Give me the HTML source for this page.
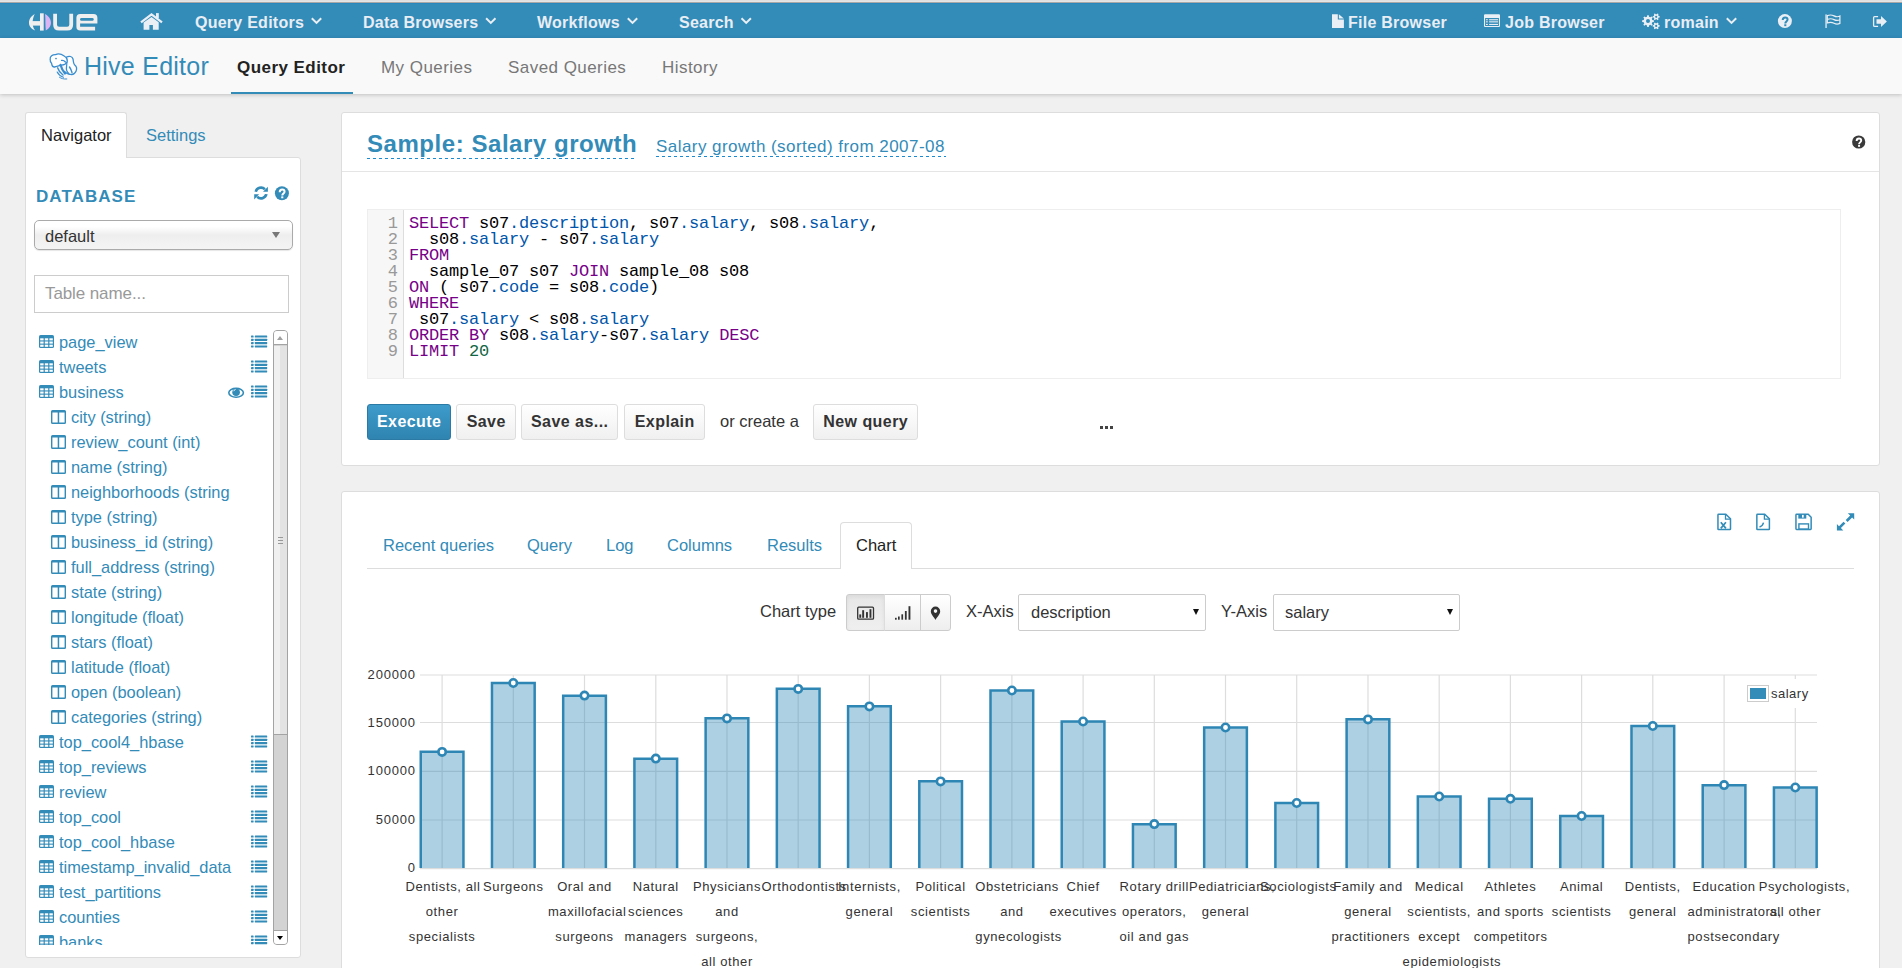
<!DOCTYPE html>
<html><head><meta charset="utf-8">
<style>
*{box-sizing:border-box;margin:0;padding:0}
html,body{width:1902px;height:968px;overflow:hidden}
body{background:#f0f0f0;font-family:"Liberation Sans",sans-serif;font-size:16px;color:#333;position:relative}
.abs{position:absolute}
#top0{left:0;top:0;width:1902px;height:1px;background:#e0e0e0}
#top1{left:0;top:1px;width:1902px;height:1px;background:#e5e5e5}
#top2{left:0;top:2px;width:1902px;height:1px;background:#aaa8a6}
#nav{left:0;top:3px;width:1902px;height:35px;background:#338bb8;border-top:1px solid #2a87bd}
.nt{position:absolute;top:14px;font-weight:bold;font-size:16px;letter-spacing:0.25px;color:#e9eef4;line-height:18px;white-space:nowrap}
.chev{position:absolute;width:11px;height:7px}
#sub{left:0;top:38px;width:1902px;height:56px;background:#f9f9f9;box-shadow:0 1px 4px rgba(0,0,0,.2)}
.st{position:absolute;top:59px;font-size:17px;letter-spacing:0.45px;color:#777;line-height:18px;white-space:nowrap}

#sbtab{left:25px;top:112px;width:102px;height:46px;background:#fff;border:1px solid #ddd;border-bottom:none;border-radius:3px 3px 0 0;z-index:2}
#sbcard{left:25px;top:157px;width:276px;height:801px;background:#fff;border:1px solid #ddd;border-radius:0 3px 3px 3px}
.tr{position:absolute;left:0;height:25px;width:240px;color:#338bb8;font-size:16.4px;line-height:25px;white-space:nowrap}
.tr span{position:absolute;top:1px}
.ti{position:absolute;left:14px;top:6px}
.ci{position:absolute;left:26px;top:6px}
.li{position:absolute;left:226px;top:6px}
#tlist{left:25px;top:329px;width:248px;height:616px;overflow:hidden}

.card{position:absolute;background:#fff;border:1px solid #ddd;border-radius:3px}
#code{left:367px;top:209px;width:1474px;height:170px;border:1px solid #eee;background:#fff}
#gut{left:368px;top:210px;width:36px;height:168px;background:#f7f7f7;border-right:1px solid #ddd}
.cl{position:absolute;left:409px;font-family:"Liberation Mono",monospace;font-size:17px;line-height:16px;letter-spacing:-0.2px;color:#000;white-space:pre}
.ln{position:absolute;left:379px;width:19px;text-align:right;font-family:"Liberation Mono",monospace;font-size:17px;line-height:16px;color:#999}
.k{color:#708}.p{color:#05a}.n{color:#164}
.btn{position:absolute;top:404px;height:36px;border:1px solid #ddd;border-radius:3px;background:linear-gradient(#fff,#f0f0f0);font-weight:bold;font-size:16px;letter-spacing:0.45px;text-indent:0.45px;color:#333;line-height:34px;text-align:center;white-space:nowrap}

.yl{position:absolute;left:360px;width:55.8px;text-align:right;font-size:13px;letter-spacing:0.8px;line-height:16px;color:#333}
.xl{position:absolute;top:874px;width:73.2px;text-align:center;font-size:13px;letter-spacing:0.6px;line-height:25px;color:#333;white-space:nowrap}
.tab{position:absolute;top:536px;font-size:16.5px;color:#338bb8;line-height:18px;white-space:nowrap}
.bg1{position:absolute;top:594px;height:37px;border:1px solid #ccc;background:linear-gradient(#fff,#eee)}
.sel{position:absolute;top:594px;height:37px;border:1px solid #ccc;background:#fff;border-radius:2px}
</style></head>
<body>
<div id="top0" class="abs"></div><div id="top1" class="abs"></div><div id="top2" class="abs"></div>
<div id="nav" class="abs"></div>
<!-- navbar text -->
<div class="nt" style="left:195px">Query Editors</div>
<div class="nt" style="left:363px">Data Browsers</div>
<div class="nt" style="left:537px">Workflows</div>
<div class="nt" style="left:679px">Search</div>
<div class="nt" style="left:1348px">File Browser</div>
<div class="nt" style="left:1505px">Job Browser</div>
<div class="nt" style="left:1664px">romain</div>

<div id="sub" class="abs"></div>
<div class="abs" style="left:84px;top:51px;font-size:25px;letter-spacing:0.25px;color:#338bb8;line-height:30px;white-space:nowrap">Hive Editor</div>
<div class="st" style="left:237px;color:#222;font-weight:bold">Query Editor</div>
<div class="abs" style="left:231px;top:92px;width:122px;height:2px;background:#338bb8"></div>
<div class="st" style="left:381px">My Queries</div>
<div class="st" style="left:508px">Saved Queries</div>
<div class="st" style="left:662px">History</div>


<svg width="0" height="0" style="position:absolute">
<defs>
<symbol id="itab" viewBox="0 0 15 13"><rect x="0" y="0" width="15" height="13" rx="1.6" fill="#338bb8"/><g fill="#fff"><rect x="1.2" y="3.3" width="3.4" height="2.1"/><rect x="5.8" y="3.3" width="3.4" height="2.1"/><rect x="10.4" y="3.3" width="3.4" height="2.1"/><rect x="1.2" y="6.5" width="3.4" height="2.1"/><rect x="5.8" y="6.5" width="3.4" height="2.1"/><rect x="10.4" y="6.5" width="3.4" height="2.1"/><rect x="1.2" y="9.7" width="3.4" height="2.1"/><rect x="5.8" y="9.7" width="3.4" height="2.1"/><rect x="10.4" y="9.7" width="3.4" height="2.1"/></g></symbol>
<symbol id="icol" viewBox="0 0 15 14"><path fill="#338bb8" fill-rule="evenodd" d="M1.5 0h12A1.5 1.5 0 0 1 15 1.5v11a1.5 1.5 0 0 1-1.5 1.5h-12A1.5 1.5 0 0 1 0 12.5v-11A1.5 1.5 0 0 1 1.5 0zM1.4 2.6v10h5.3v-10zM8.2 2.6v10h5.4v-10z"/></symbol>
<symbol id="ilist" viewBox="0 0 17 13"><g fill="#338bb8"><rect x="0" y="0.5" width="2.6" height="2.1" rx=".4"/><rect x="3.8" y="0.5" width="12.4" height="2.1" rx=".4"/><rect x="0" y="3.8" width="2.6" height="2.1" rx=".4"/><rect x="3.8" y="3.8" width="12.4" height="2.1" rx=".4"/><rect x="0" y="7.1" width="2.6" height="2.1" rx=".4"/><rect x="3.8" y="7.1" width="12.4" height="2.1" rx=".4"/><rect x="0" y="10.4" width="2.6" height="2.1" rx=".4"/><rect x="3.8" y="10.4" width="12.4" height="2.1" rx=".4"/></g></symbol>
</defs></svg>
<div id="sbcard" class="abs"></div>
<div id="sbtab" class="abs"></div>
<div class="abs" style="left:41px;top:126px;font-size:16.5px;color:#222;line-height:18px;z-index:3">Navigator</div>
<div class="abs" style="left:146px;top:126px;font-size:16.5px;color:#338bb8;line-height:18px">Settings</div>
<div class="abs" style="left:36px;top:187px;font-size:17px;font-weight:bold;letter-spacing:1.05px;color:#338bb8;line-height:20px">DATABASE</div>
<div class="abs" style="left:34px;top:220px;width:259px;height:30px;border:1px solid #aaa;border-radius:5px;background:linear-gradient(#fff 0%,#fff 20%,#eee 50%,#f4f4f4 100%);box-shadow:0 1px 1px rgba(0,0,0,.1)"></div>
<div class="abs" style="left:45px;top:227px;font-size:16.5px;color:#333;line-height:18px">default</div>
<div class="abs" style="left:272px;top:232px;width:0;height:0;border-left:4px solid transparent;border-right:4px solid transparent;border-top:6px solid #777"></div>
<div class="abs" style="left:34px;top:275px;width:255px;height:38px;border:1px solid #ccc;background:#fff"></div>
<div class="abs" style="left:45px;top:285px;font-size:17px;letter-spacing:-0.1px;color:#999;line-height:18px">Table name...</div>
<div id="tlist" class="abs">
<div class="tr" style="top:0px"><svg class="ti" width="15" height="13"><use href="#itab"/></svg><span style="left:34px">page_view</span><svg class="li" width="17" height="13"><use href="#ilist"/></svg></div>
<div class="tr" style="top:25px"><svg class="ti" width="15" height="13"><use href="#itab"/></svg><span style="left:34px">tweets</span><svg class="li" width="17" height="13"><use href="#ilist"/></svg></div>
<div class="tr" style="top:50px"><svg class="ti" width="15" height="13"><use href="#itab"/></svg><span style="left:34px">business</span><svg class="li" width="17" height="13"><use href="#ilist"/></svg></div>
<div class="tr" style="top:75px"><svg class="ci" width="15" height="14"><use href="#icol"/></svg><span style="left:46px">city (string)</span></div>
<div class="tr" style="top:100px"><svg class="ci" width="15" height="14"><use href="#icol"/></svg><span style="left:46px">review_count (int)</span></div>
<div class="tr" style="top:125px"><svg class="ci" width="15" height="14"><use href="#icol"/></svg><span style="left:46px">name (string)</span></div>
<div class="tr" style="top:150px"><svg class="ci" width="15" height="14"><use href="#icol"/></svg><span style="left:46px">neighborhoods (string</span></div>
<div class="tr" style="top:175px"><svg class="ci" width="15" height="14"><use href="#icol"/></svg><span style="left:46px">type (string)</span></div>
<div class="tr" style="top:200px"><svg class="ci" width="15" height="14"><use href="#icol"/></svg><span style="left:46px">business_id (string)</span></div>
<div class="tr" style="top:225px"><svg class="ci" width="15" height="14"><use href="#icol"/></svg><span style="left:46px">full_address (string)</span></div>
<div class="tr" style="top:250px"><svg class="ci" width="15" height="14"><use href="#icol"/></svg><span style="left:46px">state (string)</span></div>
<div class="tr" style="top:275px"><svg class="ci" width="15" height="14"><use href="#icol"/></svg><span style="left:46px">longitude (float)</span></div>
<div class="tr" style="top:300px"><svg class="ci" width="15" height="14"><use href="#icol"/></svg><span style="left:46px">stars (float)</span></div>
<div class="tr" style="top:325px"><svg class="ci" width="15" height="14"><use href="#icol"/></svg><span style="left:46px">latitude (float)</span></div>
<div class="tr" style="top:350px"><svg class="ci" width="15" height="14"><use href="#icol"/></svg><span style="left:46px">open (boolean)</span></div>
<div class="tr" style="top:375px"><svg class="ci" width="15" height="14"><use href="#icol"/></svg><span style="left:46px">categories (string)</span></div>
<div class="tr" style="top:400px"><svg class="ti" width="15" height="13"><use href="#itab"/></svg><span style="left:34px">top_cool4_hbase</span><svg class="li" width="17" height="13"><use href="#ilist"/></svg></div>
<div class="tr" style="top:425px"><svg class="ti" width="15" height="13"><use href="#itab"/></svg><span style="left:34px">top_reviews</span><svg class="li" width="17" height="13"><use href="#ilist"/></svg></div>
<div class="tr" style="top:450px"><svg class="ti" width="15" height="13"><use href="#itab"/></svg><span style="left:34px">review</span><svg class="li" width="17" height="13"><use href="#ilist"/></svg></div>
<div class="tr" style="top:475px"><svg class="ti" width="15" height="13"><use href="#itab"/></svg><span style="left:34px">top_cool</span><svg class="li" width="17" height="13"><use href="#ilist"/></svg></div>
<div class="tr" style="top:500px"><svg class="ti" width="15" height="13"><use href="#itab"/></svg><span style="left:34px">top_cool_hbase</span><svg class="li" width="17" height="13"><use href="#ilist"/></svg></div>
<div class="tr" style="top:525px"><svg class="ti" width="15" height="13"><use href="#itab"/></svg><span style="left:34px">timestamp_invalid_data</span><svg class="li" width="17" height="13"><use href="#ilist"/></svg></div>
<div class="tr" style="top:550px"><svg class="ti" width="15" height="13"><use href="#itab"/></svg><span style="left:34px">test_partitions</span><svg class="li" width="17" height="13"><use href="#ilist"/></svg></div>
<div class="tr" style="top:575px"><svg class="ti" width="15" height="13"><use href="#itab"/></svg><span style="left:34px">counties</span><svg class="li" width="17" height="13"><use href="#ilist"/></svg></div>
<div class="tr" style="top:600px"><svg class="ti" width="15" height="13"><use href="#itab"/></svg><span style="left:34px">banks</span><svg class="li" width="17" height="13"><use href="#ilist"/></svg></div>
</div>

<div class="card" style="left:341px;top:112px;width:1539px;height:354px"></div>
<div class="abs" style="left:342px;top:171px;width:1537px;height:1px;background:#e5e5e5"></div>
<div class="abs" style="left:367px;top:130px;font-size:24px;font-weight:bold;letter-spacing:0.55px;color:#338bb8;line-height:28px;white-space:nowrap">Sample: Salary growth</div>
<div class="abs" style="left:367px;top:158px;width:270px;height:1px;background:repeating-linear-gradient(90deg,#1a8bd0 0 3px,transparent 3px 6px)"></div>
<div class="abs" style="left:656px;top:137px;font-size:17px;letter-spacing:0.45px;color:#338bb8;line-height:20px;white-space:nowrap">Salary growth (sorted) from 2007-08</div>
<div class="abs" style="left:656px;top:156px;width:290px;height:1px;background:repeating-linear-gradient(90deg,#1a8bd0 0 3px,transparent 3px 6px)"></div>
<div id="code" class="abs"></div><div id="gut" class="abs"></div>
<div class="ln" style="top:216px">1</div><div class="cl" style="top:216px"><span class="k">SELECT</span> s07<span class="p">.description</span>, s07<span class="p">.salary</span>, s08<span class="p">.salary</span>,</div>
<div class="ln" style="top:232px">2</div><div class="cl" style="top:232px">  s08<span class="p">.salary</span> - s07<span class="p">.salary</span></div>
<div class="ln" style="top:248px">3</div><div class="cl" style="top:248px"><span class="k">FROM</span></div>
<div class="ln" style="top:264px">4</div><div class="cl" style="top:264px">  sample_07 s07 <span class="k">JOIN</span> sample_08 s08</div>
<div class="ln" style="top:280px">5</div><div class="cl" style="top:280px"><span class="k">ON</span> ( s07<span class="p">.code</span> = s08<span class="p">.code</span>)</div>
<div class="ln" style="top:296px">6</div><div class="cl" style="top:296px"><span class="k">WHERE</span></div>
<div class="ln" style="top:312px">7</div><div class="cl" style="top:312px"> s07<span class="p">.salary</span> &lt; s08<span class="p">.salary</span></div>
<div class="ln" style="top:328px">8</div><div class="cl" style="top:328px"><span class="k">ORDER</span> <span class="k">BY</span> s08<span class="p">.salary</span>-s07<span class="p">.salary</span> <span class="k">DESC</span></div>
<div class="ln" style="top:344px">9</div><div class="cl" style="top:344px"><span class="k">LIMIT</span> <span class="n">20</span></div>
<div class="btn" style="left:367px;width:84px;background:linear-gradient(#3d9bcb,#2f84b0);border-color:#2b7aa5;color:#fff">Execute</div>
<div class="btn" style="left:456px;width:60px">Save</div>
<div class="btn" style="left:521px;width:97px">Save as...</div>
<div class="btn" style="left:624px;width:81px">Explain</div>
<div class="abs" style="left:720px;top:412px;font-size:16.5px;color:#333;line-height:18px">or create a</div>
<div class="btn" style="left:813px;width:105px">New query</div>
<div class="abs" style="left:1100px;top:426px;width:3px;height:3px;background:#444"></div>
<div class="abs" style="left:1105px;top:426px;width:3px;height:3px;background:#444"></div>
<div class="abs" style="left:1110px;top:426px;width:3px;height:3px;background:#444"></div>

<div class="card" style="left:341px;top:491px;width:1539px;height:520px"></div>
<div class="abs" style="left:367px;top:568px;width:1487px;height:1px;background:#ddd"></div>
<div class="abs" style="left:840px;top:522px;width:72px;height:47px;background:#fff;border:1px solid #ddd;border-bottom:none;border-radius:4px 4px 0 0"></div>
<div class="tab" style="left:383px">Recent queries</div>
<div class="tab" style="left:527px">Query</div>
<div class="tab" style="left:606px">Log</div>
<div class="tab" style="left:667px">Columns</div>
<div class="tab" style="left:767px">Results</div>
<div class="tab" style="left:856px;color:#222">Chart</div>
<div class="abs" style="left:760px;top:602px;font-size:16.5px;color:#333;line-height:18px">Chart type</div>
<div class="bg1" style="left:846px;width:39px;border-radius:3px 0 0 3px;background:linear-gradient(#e7e7e7,#efefef);box-shadow:inset 0 2px 4px rgba(0,0,0,.06)"></div>
<div class="bg1" style="left:884px;width:37px;border-left:1px solid #ddd"></div>
<div class="bg1" style="left:920px;width:31px;border-radius:0 3px 3px 0"></div>
<div class="abs" style="left:966px;top:602px;font-size:16.5px;color:#333;line-height:18px">X-Axis</div>
<div class="sel" style="left:1018px;width:188px"></div>
<div class="abs" style="left:1031px;top:603px;font-size:16.5px;color:#333;line-height:18px">description</div>
<div class="abs" style="left:1193px;top:609px;width:0;height:0;border-left:3px solid transparent;border-right:3px solid transparent;border-top:6px solid #111"></div>
<div class="abs" style="left:1221px;top:602px;font-size:16.5px;color:#333;line-height:18px">Y-Axis</div>
<div class="sel" style="left:1273px;width:187px"></div>
<div class="abs" style="left:1285px;top:603px;font-size:16.5px;color:#333;line-height:18px">salary</div>
<div class="abs" style="left:1447px;top:609px;width:0;height:0;border-left:3px solid transparent;border-right:3px solid transparent;border-top:6px solid #111"></div>
<svg class="abs" style="left:0;top:0" width="1902" height="968">
<line x1="420" x2="1817" y1="675" y2="675" stroke="#ddd" stroke-width="1.2"/>
<line x1="420" x2="1817" y1="722.5" y2="722.5" stroke="#ddd" stroke-width="1.2"/>
<line x1="420" x2="1817" y1="771.3" y2="771.3" stroke="#ddd" stroke-width="1.2"/>
<line x1="420" x2="1817" y1="820" y2="820" stroke="#ddd" stroke-width="1.2"/>
<line x1="442.1" x2="442.1" y1="675" y2="868" stroke="#ddd" stroke-width="1.2"/>
<line x1="513.3" x2="513.3" y1="675" y2="868" stroke="#ddd" stroke-width="1.2"/>
<line x1="584.5" x2="584.5" y1="675" y2="868" stroke="#ddd" stroke-width="1.2"/>
<line x1="655.8" x2="655.8" y1="675" y2="868" stroke="#ddd" stroke-width="1.2"/>
<line x1="727.0" x2="727.0" y1="675" y2="868" stroke="#ddd" stroke-width="1.2"/>
<line x1="798.2" x2="798.2" y1="675" y2="868" stroke="#ddd" stroke-width="1.2"/>
<line x1="869.4" x2="869.4" y1="675" y2="868" stroke="#ddd" stroke-width="1.2"/>
<line x1="940.6" x2="940.6" y1="675" y2="868" stroke="#ddd" stroke-width="1.2"/>
<line x1="1011.9" x2="1011.9" y1="675" y2="868" stroke="#ddd" stroke-width="1.2"/>
<line x1="1083.1" x2="1083.1" y1="675" y2="868" stroke="#ddd" stroke-width="1.2"/>
<line x1="1154.3" x2="1154.3" y1="675" y2="868" stroke="#ddd" stroke-width="1.2"/>
<line x1="1225.5" x2="1225.5" y1="675" y2="868" stroke="#ddd" stroke-width="1.2"/>
<line x1="1296.7" x2="1296.7" y1="675" y2="868" stroke="#ddd" stroke-width="1.2"/>
<line x1="1368.0" x2="1368.0" y1="675" y2="868" stroke="#ddd" stroke-width="1.2"/>
<line x1="1439.2" x2="1439.2" y1="675" y2="868" stroke="#ddd" stroke-width="1.2"/>
<line x1="1510.4" x2="1510.4" y1="675" y2="868" stroke="#ddd" stroke-width="1.2"/>
<line x1="1581.6" x2="1581.6" y1="675" y2="868" stroke="#ddd" stroke-width="1.2"/>
<line x1="1652.8" x2="1652.8" y1="675" y2="868" stroke="#ddd" stroke-width="1.2"/>
<line x1="1724.1" x2="1724.1" y1="675" y2="868" stroke="#ddd" stroke-width="1.2"/>
<line x1="1795.3" x2="1795.3" y1="675" y2="868" stroke="#ddd" stroke-width="1.2"/>
<path d="M420.75 868V751.85H463.45V868" fill="rgba(51,139,184,0.4)" stroke="#2e86b5" stroke-width="2.5"/>
<path d="M491.97 868V683.05H534.67V868" fill="rgba(51,139,184,0.4)" stroke="#2e86b5" stroke-width="2.5"/>
<path d="M563.19 868V695.65H605.89V868" fill="rgba(51,139,184,0.4)" stroke="#2e86b5" stroke-width="2.5"/>
<path d="M634.41 868V758.65H677.11V868" fill="rgba(51,139,184,0.4)" stroke="#2e86b5" stroke-width="2.5"/>
<path d="M705.63 868V718.35H748.33V868" fill="rgba(51,139,184,0.4)" stroke="#2e86b5" stroke-width="2.5"/>
<path d="M776.85 868V688.85H819.55V868" fill="rgba(51,139,184,0.4)" stroke="#2e86b5" stroke-width="2.5"/>
<path d="M848.07 868V706.35H890.77V868" fill="rgba(51,139,184,0.4)" stroke="#2e86b5" stroke-width="2.5"/>
<path d="M919.29 868V781.35H961.99V868" fill="rgba(51,139,184,0.4)" stroke="#2e86b5" stroke-width="2.5"/>
<path d="M990.51 868V690.45H1033.21V868" fill="rgba(51,139,184,0.4)" stroke="#2e86b5" stroke-width="2.5"/>
<path d="M1061.73 868V721.45H1104.43V868" fill="rgba(51,139,184,0.4)" stroke="#2e86b5" stroke-width="2.5"/>
<path d="M1132.95 868V824.15H1175.65V868" fill="rgba(51,139,184,0.4)" stroke="#2e86b5" stroke-width="2.5"/>
<path d="M1204.17 868V727.45H1246.87V868" fill="rgba(51,139,184,0.4)" stroke="#2e86b5" stroke-width="2.5"/>
<path d="M1275.39 868V803.05H1318.09V868" fill="rgba(51,139,184,0.4)" stroke="#2e86b5" stroke-width="2.5"/>
<path d="M1346.61 868V719.35H1389.31V868" fill="rgba(51,139,184,0.4)" stroke="#2e86b5" stroke-width="2.5"/>
<path d="M1417.83 868V796.45H1460.53V868" fill="rgba(51,139,184,0.4)" stroke="#2e86b5" stroke-width="2.5"/>
<path d="M1489.05 868V798.75H1531.75V868" fill="rgba(51,139,184,0.4)" stroke="#2e86b5" stroke-width="2.5"/>
<path d="M1560.27 868V815.95H1602.97V868" fill="rgba(51,139,184,0.4)" stroke="#2e86b5" stroke-width="2.5"/>
<path d="M1631.49 868V726.05H1674.19V868" fill="rgba(51,139,184,0.4)" stroke="#2e86b5" stroke-width="2.5"/>
<path d="M1702.71 868V785.15H1745.41V868" fill="rgba(51,139,184,0.4)" stroke="#2e86b5" stroke-width="2.5"/>
<path d="M1773.93 868V787.55H1816.63V868" fill="rgba(51,139,184,0.4)" stroke="#2e86b5" stroke-width="2.5"/>
<line x1="420" x2="1817" y1="868.6" y2="868.6" stroke="#ddd" stroke-width="1.3"/>
<circle cx="442.1" cy="751.9" r="3.7" fill="#fff" stroke="#2e86b5" stroke-width="2.6"/>
<circle cx="513.3" cy="683.0" r="3.7" fill="#fff" stroke="#2e86b5" stroke-width="2.6"/>
<circle cx="584.5" cy="695.6" r="3.7" fill="#fff" stroke="#2e86b5" stroke-width="2.6"/>
<circle cx="655.8" cy="758.6" r="3.7" fill="#fff" stroke="#2e86b5" stroke-width="2.6"/>
<circle cx="727.0" cy="718.4" r="3.7" fill="#fff" stroke="#2e86b5" stroke-width="2.6"/>
<circle cx="798.2" cy="688.9" r="3.7" fill="#fff" stroke="#2e86b5" stroke-width="2.6"/>
<circle cx="869.4" cy="706.4" r="3.7" fill="#fff" stroke="#2e86b5" stroke-width="2.6"/>
<circle cx="940.6" cy="781.4" r="3.7" fill="#fff" stroke="#2e86b5" stroke-width="2.6"/>
<circle cx="1011.9" cy="690.5" r="3.7" fill="#fff" stroke="#2e86b5" stroke-width="2.6"/>
<circle cx="1083.1" cy="721.5" r="3.7" fill="#fff" stroke="#2e86b5" stroke-width="2.6"/>
<circle cx="1154.3" cy="824.1" r="3.7" fill="#fff" stroke="#2e86b5" stroke-width="2.6"/>
<circle cx="1225.5" cy="727.5" r="3.7" fill="#fff" stroke="#2e86b5" stroke-width="2.6"/>
<circle cx="1296.7" cy="803.0" r="3.7" fill="#fff" stroke="#2e86b5" stroke-width="2.6"/>
<circle cx="1368.0" cy="719.4" r="3.7" fill="#fff" stroke="#2e86b5" stroke-width="2.6"/>
<circle cx="1439.2" cy="796.5" r="3.7" fill="#fff" stroke="#2e86b5" stroke-width="2.6"/>
<circle cx="1510.4" cy="798.8" r="3.7" fill="#fff" stroke="#2e86b5" stroke-width="2.6"/>
<circle cx="1581.6" cy="816.0" r="3.7" fill="#fff" stroke="#2e86b5" stroke-width="2.6"/>
<circle cx="1652.8" cy="726.0" r="3.7" fill="#fff" stroke="#2e86b5" stroke-width="2.6"/>
<circle cx="1724.1" cy="785.1" r="3.7" fill="#fff" stroke="#2e86b5" stroke-width="2.6"/>
<circle cx="1795.3" cy="787.5" r="3.7" fill="#fff" stroke="#2e86b5" stroke-width="2.6"/>
<rect x="1745" y="679" width="66" height="29" fill="#fff"/>
<rect x="1747.5" y="685.5" width="21" height="16" fill="#fff" stroke="#ccc" stroke-width="1"/>
<rect x="1750" y="688" width="16" height="11" fill="#338bb8"/>
</svg>
<div class="yl" style="top:667px">200000</div>
<div class="yl" style="top:714.5px">150000</div>
<div class="yl" style="top:763.3px">100000</div>
<div class="yl" style="top:812px">50000</div>
<div class="yl" style="top:860.0px">0</div>
<div class="xl" style="left:405.5px"><div>Dentists, all</div><div>other</div><div>specialists</div></div>
<div class="xl" style="left:476.7px"><div>Surgeons</div></div>
<div class="xl" style="left:547.9px"><div>Oral and</div><div>maxillofacial</div><div>surgeons</div></div>
<div class="xl" style="left:619.2px"><div>Natural</div><div>sciences</div><div>managers</div></div>
<div class="xl" style="left:690.4px"><div>Physicians</div><div>and</div><div>surgeons,</div><div>all other</div></div>
<div class="xl" style="left:761.6px"><div>Orthodontists</div></div>
<div class="xl" style="left:832.8px"><div>Internists,</div><div>general</div></div>
<div class="xl" style="left:904.0px"><div>Political</div><div>scientists</div></div>
<div class="xl" style="left:975.3px"><div>Obstetricians</div><div>and</div><div>gynecologists</div></div>
<div class="xl" style="left:1046.5px"><div>Chief</div><div>executives</div></div>
<div class="xl" style="left:1117.7px"><div>Rotary drill</div><div>operators,</div><div>oil and gas</div></div>
<div class="xl" style="left:1188.9px"><div>Pediatricians,</div><div>general</div></div>
<div class="xl" style="left:1260.1px"><div>Sociologists</div></div>
<div class="xl" style="left:1331.4px"><div>Family and</div><div>general</div><div>practitioners</div></div>
<div class="xl" style="left:1402.6px"><div>Medical</div><div>scientists,</div><div>except</div><div>epidemiologists</div></div>
<div class="xl" style="left:1473.8px"><div>Athletes</div><div>and sports</div><div>competitors</div></div>
<div class="xl" style="left:1545.0px"><div>Animal</div><div>scientists</div></div>
<div class="xl" style="left:1616.2px"><div>Dentists,</div><div>general</div></div>
<div class="xl" style="left:1687.5px"><div>Education</div><div>administrators,</div><div>postsecondary</div></div>
<div class="xl" style="left:1758.7px"><div>Psychologists,</div><div>all other</div></div>
<div class="abs" style="left:1771px;top:686px;font-size:13px;letter-spacing:0.5px;color:#333;line-height:16px">salary</div>
<div class="abs" style="left:273px;top:330px;width:15px;height:615px;border:1px solid #a3a3a3;border-radius:4px;background:#d3d3d3;overflow:hidden">
<div class="abs" style="left:0;top:0;width:13px;height:14px;background:#fff;border-bottom:1px solid #a3a3a3"></div>
<div class="abs" style="left:3px;top:5px;width:0;height:0;border-left:3.5px solid transparent;border-right:3.5px solid transparent;border-bottom:4px solid #a0a0a0"></div>
<div class="abs" style="left:0;top:15px;width:6px;height:388px;background:#f0f0f0"></div>
<div class="abs" style="left:6px;top:15px;width:7px;height:388px;background:#e3e3e3"></div>
<div class="abs" style="left:0;top:403px;width:13px;height:1px;background:#a3a3a3"></div>
<div class="abs" style="left:4px;top:206px;width:5px;height:1px;background:#999"></div>
<div class="abs" style="left:4px;top:209px;width:5px;height:1px;background:#999"></div>
<div class="abs" style="left:4px;top:212px;width:5px;height:1px;background:#999"></div>
<div class="abs" style="left:0;top:599px;width:13px;height:14px;background:#fff;border-top:1px solid #a3a3a3"></div>
<div class="abs" style="left:3px;top:605px;width:0;height:0;border-left:3.5px solid transparent;border-right:3.5px solid transparent;border-top:4px solid #000"></div>
</div>
<!--ICONS--><svg class="abs" style="left:0;top:0;z-index:5" width="1902" height="968"><g transform="translate(26 10)" fill="#efefef"><path d="M8.7 4.0C4.6 6.3 3.0 9.6 3.0 12.8C3.0 16.0 4.6 18.6 9.2 20.5C7.3 18.1 6.6 15.6 6.6 12.8C6.6 9.9 7.3 7.0 8.7 4.0Z"/><rect x="14" y="3.3" width="3.7" height="17.3"/><rect x="5" y="11.1" width="9.5" height="4.5"/><path d="M19.1 4.0C23.8 7.0 25.0 10.0 25.0 12.8C25.0 15.6 23.8 18.1 19.8 20.5C19.6 17.9 19.4 15.5 19.4 12.8C19.4 10.0 19.4 7.0 19.1 4.0Z" fill="#dcb4f4"/><path d="M29.1 3.7V14.7Q29.1 18.7 33.1 18.7H41.2Q45.2 18.7 45.2 14.7V3.7" fill="none" stroke="#efefef" stroke-width="3.8"/><path d="M54.2 3.9H67.6Q71.4 3.9 71.4 7.7V13.4H54.1V16.8H69.1V20.6H54.2Q50.4 20.6 50.4 16.8V7.7Q50.4 3.9 54.2 3.9Z"/><rect x="54.1" y="7.9" width="13.6" height="2.9" rx="1.4" fill="#338bb8"/></g>
<g fill="#e9eff4"><polyline points="141,22.3 151.5,14.4 162,22.3" fill="none" stroke="#e9eff4" stroke-width="2.3"/><rect x="156" y="13.1" width="2.8" height="5"/><path d="M143.6 22.6L151.5 16.9L158.7 22.2V29.8H152.9V25H149.4V29.8H143.6Z"/></g>
<polyline points="311.8,18.2 316.5,22.9 321.2,18.2" fill="none" stroke="#e9eff4" stroke-width="2"/>
<polyline points="486.1,18.2 490.8,22.9 495.5,18.2" fill="none" stroke="#e9eff4" stroke-width="2"/>
<polyline points="627.8,18.2 632.5,22.9 637.2,18.2" fill="none" stroke="#e9eff4" stroke-width="2"/>
<polyline points="741.5,18.2 746.2,22.9 750.9000000000001,18.2" fill="none" stroke="#e9eff4" stroke-width="2"/>
<polyline points="1726.8,18.2 1731.5,22.9 1736.2,18.2" fill="none" stroke="#e9eff4" stroke-width="2"/>
<g fill="#e9eff4"><path d="M1332 14.2H1337.8V19.6H1343.9V28H1332Z"/><path d="M1338.9 14.2L1343.9 18.6H1338.9Z"/></g>
<g fill="#e9eff4"><path fill-rule="evenodd" d="M1485 14.2H1499Q1500 14.2 1500 15.2V25.9Q1500 26.9 1499 26.9H1485Q1484 26.9 1484 25.9V15.2Q1484 14.2 1485 14.2ZM1485.1 18.1V25.9H1498.9V18.1Z"/><rect x="1486" y="19.2" width="1.8" height="1.1"/><rect x="1489.1" y="19.2" width="8.9" height="1.1"/><rect x="1486" y="21.3" width="1.8" height="1.1"/><rect x="1489.1" y="21.3" width="8.9" height="1.1"/><rect x="1486" y="23.9" width="1.8" height="1.1"/><rect x="1489.1" y="23.9" width="8.9" height="1.1"/></g>
<path fill="#e9eff4" fill-rule="evenodd" d="M1653.85 20.31 L1653.85 21.89 L1652.28 22.13 L1651.75 23.40 L1652.69 24.68 L1651.58 25.79 L1650.30 24.85 L1649.03 25.38 L1648.79 26.95 L1647.21 26.95 L1646.97 25.38 L1645.70 24.85 L1644.42 25.79 L1643.31 24.68 L1644.25 23.40 L1643.72 22.13 L1642.15 21.89 L1642.15 20.31 L1643.72 20.07 L1644.25 18.80 L1643.31 17.52 L1644.42 16.41 L1645.70 17.35 L1646.97 16.82 L1647.21 15.25 L1648.79 15.25 L1649.03 16.82 L1650.30 17.35 L1651.58 16.41 L1652.69 17.52 L1651.75 18.80 L1652.28 20.07ZM1650.00 21.10a2.0 2.0 0 1 0 -4.00 0a2.0 2.0 0 1 0 4.00 0Z"/>
<path fill="#e9eff4" fill-rule="evenodd" d="M1659.74 16.16 L1659.74 17.44 L1658.67 17.60 L1658.13 18.54 L1658.52 19.55 L1657.42 20.19 L1656.74 19.34 L1655.66 19.34 L1654.98 20.19 L1653.88 19.55 L1654.27 18.54 L1653.73 17.60 L1652.66 17.44 L1652.66 16.16 L1653.73 16.00 L1654.27 15.06 L1653.88 14.05 L1654.98 13.41 L1655.66 14.26 L1656.74 14.26 L1657.42 13.41 L1658.52 14.05 L1658.13 15.06 L1658.67 16.00ZM1657.30 16.80a1.1 1.1 0 1 0 -2.20 0a1.1 1.1 0 1 0 2.20 0Z"/>
<path fill="#e9eff4" fill-rule="evenodd" d="M1659.74 25.26 L1659.74 26.54 L1658.67 26.70 L1658.13 27.64 L1658.52 28.65 L1657.42 29.29 L1656.74 28.44 L1655.66 28.44 L1654.98 29.29 L1653.88 28.65 L1654.27 27.64 L1653.73 26.70 L1652.66 26.54 L1652.66 25.26 L1653.73 25.10 L1654.27 24.16 L1653.88 23.15 L1654.98 22.51 L1655.66 23.36 L1656.74 23.36 L1657.42 22.51 L1658.52 23.15 L1658.13 24.16 L1658.67 25.10ZM1657.30 25.90a1.1 1.1 0 1 0 -2.20 0a1.1 1.1 0 1 0 2.20 0Z"/>
<circle cx="1784.9" cy="21.1" r="7" fill="#e9eff4"/><path d="M1782.72 20.08C1782.72 18.18 1784.05 17.42 1785.19 17.42C1786.71 17.42 1787.56 18.47 1787.56 19.61C1787.56 21.41 1785.28 21.60 1785.28 23.41" fill="none" stroke="#338bb8" stroke-width="1.99"/><rect x="1784.24" y="24.26" width="2.09" height="1.90" fill="#338bb8"/>
<rect x="1825.4" y="14.4" width="1.3" height="13.6" fill="#e9eff4"/><path d="M1827.3 15.6C1830 14.6 1832 14.8 1834 15.9C1836 17 1838 17 1839.9 16V23.4C1838 24.4 1836 24.4 1834 23.3C1832 22.2 1830 22 1827.3 23Z" fill="none" stroke="#e9eff4" stroke-width="1.2"/><path d="M1827.5 19.4C1830 18.4 1832 18.6 1834 19.6C1836 20.7 1838 20.7 1839.9 19.7" fill="none" stroke="#e9eff4" stroke-width="1.2"/>
<path d="M1878.1 16.6H1874.6Q1873.6 16.6 1873.6 17.6V25.4Q1873.6 26.4 1874.6 26.4H1878.1" fill="none" stroke="#e9eff4" stroke-width="1.3"/><path d="M1876.5 19.2H1881V16L1886.9 21.5L1881 27V23.7H1876.5Z" fill="#e9eff4"/>
<g fill="#fff" stroke="#3a8ed0" stroke-width="1.3" stroke-linejoin="round"><path d="M66.5 57C69.5 55.6 72.2 56.4 73 59C73.6 61.4 73 63 74.5 64.8C76.5 66.3 77.2 68.6 76 71.2C74.8 73.8 72 75 69.2 74C67.2 72.4 66 70 66.5 67.2C67 64 67.4 60.4 66.5 57Z"/><path d="M50.2 59.2C49.8 56.6 52.6 54.4 55.6 54.6C58 53.4 61.4 54 64.2 56C66.4 57.4 67.6 59.6 67 62C66 64 63.8 65 61.6 65.2C59 65.6 57 66.4 54.8 67C52.8 67.2 51.8 65.4 51.6 63.4C50.4 62.2 50 60.8 50.2 59.2Z"/></g><g fill="none" stroke="#3a8ed0" stroke-linecap="round"><path d="M60.5 64.8C61.5 68.5 62.8 71 65 73.5" stroke-width="2.2"/><path d="M57.6 67.8C58.6 71 60.4 73.2 63 75" stroke-width="1.4"/><path d="M57.2 72C58.4 74.6 60.6 76.2 63.4 77.2" stroke-width="1.2"/><path d="M59.4 77.2C61.4 78.6 63.4 79.2 66.8 79" stroke-width="1"/><path d="M61.6 60.4C63 60.2 64.4 60.8 65.4 62" stroke-width="1.3"/><path d="M69.5 67C70.5 68.5 71.5 70.5 72 72.5" stroke-width="1.4"/><path d="M64.5 71.5C66 73 67.5 74 69.5 74.5" stroke-width="1.2"/></g><circle cx="56" cy="58.6" r="0.8" fill="#2c82c4"/>
<g fill="#338bb8"><path d="M254.4 191.6A6.8 6.8 0 0 1 265.8 188.2L264 190.2A4.2 4.2 0 0 0 257 191.9Z"/><path d="M267.9 186.8V191.8H263Z"/><path d="M267.7 194.3A6.8 6.8 0 0 1 256.3 197.8L258 195.8A4.2 4.2 0 0 0 265 194.1Z"/><path d="M254.2 199.4V194.3H259.1Z"/></g>
<circle cx="281.9" cy="193.2" r="7" fill="#338bb8"/><path d="M279.71 192.18C279.71 190.28 281.04 189.52 282.19 189.52C283.70 189.52 284.56 190.56 284.56 191.70C284.56 193.51 282.28 193.70 282.28 195.50" fill="none" stroke="#fff" stroke-width="1.99"/><rect x="281.23" y="196.36" width="2.09" height="1.90" fill="#fff"/>
<ellipse cx="236.1" cy="392.8" rx="7.3" ry="4.4" fill="none" stroke="#338bb8" stroke-width="1.6"/><circle cx="236.1" cy="392.2" r="3.8" fill="#338bb8"/><path d="M233.8 391.2Q234 389.6 235.6 389.4" fill="none" stroke="#fff" stroke-width="0.9"/>
<circle cx="1858.7" cy="142" r="6.6" fill="#3a3a3a"/><path d="M1856.63 141.06C1856.63 139.26 1857.89 138.54 1858.97 138.54C1860.41 138.54 1861.22 139.53 1861.22 140.61C1861.22 142.32 1859.06 142.50 1859.06 144.21" fill="none" stroke="#fff" stroke-width="1.89"/><rect x="1858.07" y="145.02" width="1.98" height="1.80" fill="#fff"/>
<rect x="857.7" y="607.2" width="15.8" height="12" rx="1" fill="none" stroke="#333" stroke-width="1.3"/><g fill="#333"><rect x="859.3" y="614.4" width="1.9" height="3.4"/><rect x="862.2" y="610.2" width="1.9" height="7.6"/><rect x="866" y="612.1" width="1.9" height="5.7"/><rect x="869.5" y="609.2" width="1.9" height="8.6"/></g>
<g fill="#333"><rect x="895" y="617.8" width="1.7" height="1.9"/><rect x="898" y="616.5" width="1.7" height="3.2"/><rect x="901.4" y="614.3" width="1.7" height="5.4"/><rect x="904.9" y="611" width="1.8" height="8.7"/><rect x="908.5" y="606.2" width="1.9" height="13.5"/></g>
<path fill="#333" fill-rule="evenodd" d="M935.5 620.1C934.4 617.6 930.8 614.6 930.8 611.3A4.7 4.7 0 0 1 940.2 611.3C940.2 614.6 936.6 617.6 935.5 620.1ZM935.5 609.3A1.8 1.8 0 1 0 935.5 612.9A1.8 1.8 0 1 0 935.5 609.3Z"/>
<path d="M1717.95 514.9Q1717.95 514.25 1718.6000000000001 514.25H1725.8L1730.5 518.8V529.0Q1730.5 529.6 1729.9 529.6H1718.6000000000001Q1717.95 529.6 1717.95 529.0Z" fill="none" stroke="#338bb8" stroke-width="1.5"/><path d="M1725.5 514.4V519.1H1730.3" fill="none" stroke="#338bb8" stroke-width="1.3"/><path d="M1720.8 522.2L1725.9 528.4M1725.9 522.2L1720.8 528.4" stroke="#338bb8" stroke-width="1.7"/>
<path d="M1756.85 514.9Q1756.85 514.25 1757.5 514.25H1764.6999999999998L1769.3999999999999 518.8V529.0Q1769.3999999999999 529.6 1768.8 529.6H1757.5Q1756.85 529.6 1756.85 529.0Z" fill="none" stroke="#338bb8" stroke-width="1.5"/><path d="M1764.3999999999999 514.4V519.1H1769.1999999999998" fill="none" stroke="#338bb8" stroke-width="1.3"/><path d="M1759.5 527.2Q1763 525.5 1763.5 522.6" fill="none" stroke="#338bb8" stroke-width="1.4"/>
<path d="M1795.95 514.9Q1795.95 514.25 1796.6 514.25H1808.2L1811.15 517.2V528.8Q1811.15 529.45 1810.5 529.45H1796.6Q1795.95 529.45 1795.95 528.8Z" fill="none" stroke="#338bb8" stroke-width="1.5"/><rect x="1798.3" y="514" width="8" height="4.6" fill="#338bb8"/><rect x="1802" y="514.9" width="1.7" height="2.7" fill="#fff"/><rect x="1798.9" y="523.9" width="9.6" height="5.2" fill="none" stroke="#338bb8" stroke-width="1.4"/>
<g fill="#338bb8"><path d="M1854.2 513.2V519.6L1852.1 517.5L1847.6 522L1845.7 520.1L1850.2 515.6L1847.8 513.2Z"/><path d="M1836.9 530.5V524.1L1839 526.2L1843.5 521.7L1845.4 523.6L1840.9 528.1L1843.3 530.5Z"/></g></svg><!--/ICONS-->
</body></html>
